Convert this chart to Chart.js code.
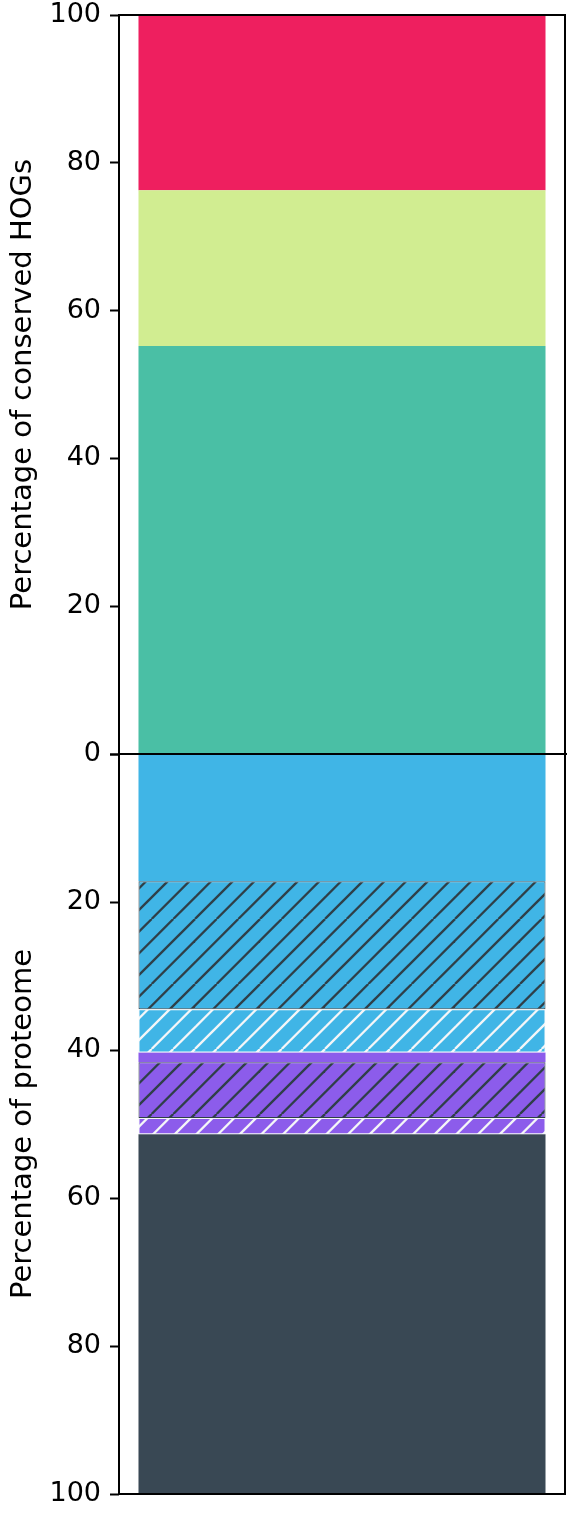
<!DOCTYPE html>
<html>
<head>
<meta charset="utf-8">
<script src="https://cdn.jsdelivr.net/npm/chart.js@4/dist/chart.umd.min.js"></script>
<style>
  html, body { margin: 0; padding: 0; background: #ffffff; }
  body { width: 567px; height: 1514px; position: relative; overflow: hidden; }
  .panel { position: absolute; left: 0; width: 567px; }
  /* each panel keeps 30px of padding above and below its plotting area */
  #topPanel { top: -15px; height: 799px; }
  #bottomPanel { top: 724px; height: 800px; }
</style>
</head>
<body>
<div class="panel" id="topPanel"><canvas id="hogChart"></canvas></div>
<div class="panel" id="bottomPanel"><canvas id="proteomeChart"></canvas></div>
<script>
// ---- data ----
const barCategories = [''];
const yTickValues = [0, 20, 40, 60, 80, 100];

// conserved HOGs, stacked upward from 0
const hogLabels = ['Group A', 'Group B', 'Group C'];
const hogValues = [55.2, 21.1, 23.7];
const hogColors = ['#4ABFA5', '#D1ED91', '#EE1F5F'];

// proteome, stacked downward from 0
const proteomeLabels = ['Set 1', 'Set 1 (hatched)', 'Set 1 (light hatched)', 'Set 2', 'Set 2 (hatched)', 'Set 2 (light hatched)', 'Rest'];
const proteomeValues = [17.2, 17.3, 5.85, 1.3, 7.55, 2.2, 48.6];
const proteomeColors = ['#40B5E6', '#40B5E6', '#40B5E6', '#8C5CEB', '#8C5CEB', '#8C5CEB', '#394854'];
const proteomeHatch = [null, 'dark', 'light', null, 'dark', 'light', null];

// ---- styling helpers ----
const FONT = 'DejaVu Sans';
const HATCH_DARK = '#2F3F48';
const HATCH_LIGHT = '#F4F6F8';
const PAD = 30;

function hatchPattern(base, lineColor) {
  const size = 65;                // three diagonal lines per tile
  const step = size / 3;
  const c = document.createElement('canvas');
  c.width = size; c.height = size;
  const g = c.getContext('2d');
  g.fillStyle = base;
  g.fillRect(0, 0, size, size);
  g.strokeStyle = lineColor;
  g.lineWidth = 2.3;
  g.lineCap = 'butt';
  for (let i = -4; i <= 7; i++) {
    const x0 = i * step;
    g.beginPath();
    g.moveTo(x0, size);
    g.lineTo(x0 + size, 0);
    g.stroke();
  }
  return document.createElement('canvas').getContext('2d').createPattern(c, 'repeat');
}

// box around the plotting area, like axis spines
const framePlugin = {
  id: 'frame',
  afterDatasetsDraw(chart, args, opts) {
    const { ctx, chartArea: a } = chart;
    const l = Math.round(a.left), t = Math.round(a.top);
    const r = Math.round(a.right), b = Math.round(a.bottom);
    ctx.save();
    ctx.strokeStyle = '#000000';
    ctx.lineWidth = 2;
    ctx.strokeRect(l, t, r - l, b - t);
    if (opts && opts.extendBottom) {
      ctx.beginPath();
      ctx.moveTo(l, b);
      ctx.lineTo(chart.width, b);
      ctx.stroke();
    }
    ctx.restore();
  }
};

function yScale(titleText, reverse, hideZero) {
  return {
    type: 'linear',
    stacked: true,
    min: 0,
    max: 100,
    reverse: reverse,
    afterFit(scale) { scale.width = 119; },
    afterBuildTicks(scale) { scale.ticks = yTickValues.map(v => ({ value: v })); },
    ticks: {
      color: '#000000',
      padding: 9,
      font: { family: FONT, size: 27, lineHeight: 1.0 },
      callback: (v) => (hideZero && v === 0) ? '' : String(v)
    },
    grid: {
      display: true,
      drawOnChartArea: false,
      drawTicks: true,
      tickLength: 9,
      tickWidth: 2,
      tickColor: '#000000'
    },
    border: { display: false },
    title: {
      display: true,
      text: titleText,
      color: '#000000',
      font: { family: FONT, size: 29, lineHeight: 1.2 },
      padding: { top: 6, bottom: 0 }
    }
  };
}

const xScale = {
  type: 'category',
  stacked: true,
  display: false
};

const commonOptions = (title, reverse, hideZero, extendBottom) => ({
  responsive: true,
  maintainAspectRatio: false,
  animation: false,
  devicePixelRatio: 1,
  layout: { padding: { top: PAD, bottom: PAD, left: 0, right: 2 } },
  plugins: {
    legend: { display: false },
    tooltip: { enabled: false },
    frame: { extendBottom: extendBottom }
  },
  datasets: { bar: { categoryPercentage: 1.0, barPercentage: 0.9126 } },
  scales: { x: xScale, y: yScale(title, reverse, hideZero) }
});

// ---- top panel: conserved HOGs ----
new Chart(document.getElementById('hogChart'), {
  type: 'bar',
  data: {
    labels: barCategories,
    datasets: hogValues.map((v, i) => ({
      label: hogLabels[i],
      data: [v],
      backgroundColor: hogColors[i],
      borderWidth: 0
    }))
  },
  options: commonOptions('Percentage of conserved HOGs', false, false, true),
  plugins: [framePlugin]
});

// ---- bottom panel: proteome ----
new Chart(document.getElementById('proteomeChart'), {
  type: 'bar',
  data: {
    labels: barCategories,
    datasets: proteomeValues.map((v, i) => {
      const h = proteomeHatch[i];
      return {
        label: proteomeLabels[i],
        data: [v],
        backgroundColor: h ? hatchPattern(proteomeColors[i], h === 'dark' ? HATCH_DARK : HATCH_LIGHT) : proteomeColors[i],
        borderColor: h === 'dark' ? HATCH_DARK : (h === 'light' ? HATCH_LIGHT : proteomeColors[i]),
        borderWidth: h ? 1 : 0,
        borderSkipped: false
      };
    })
  },
  options: commonOptions('Percentage of proteome', true, true, false),
  plugins: [framePlugin]
});
</script>
</body>
</html>
